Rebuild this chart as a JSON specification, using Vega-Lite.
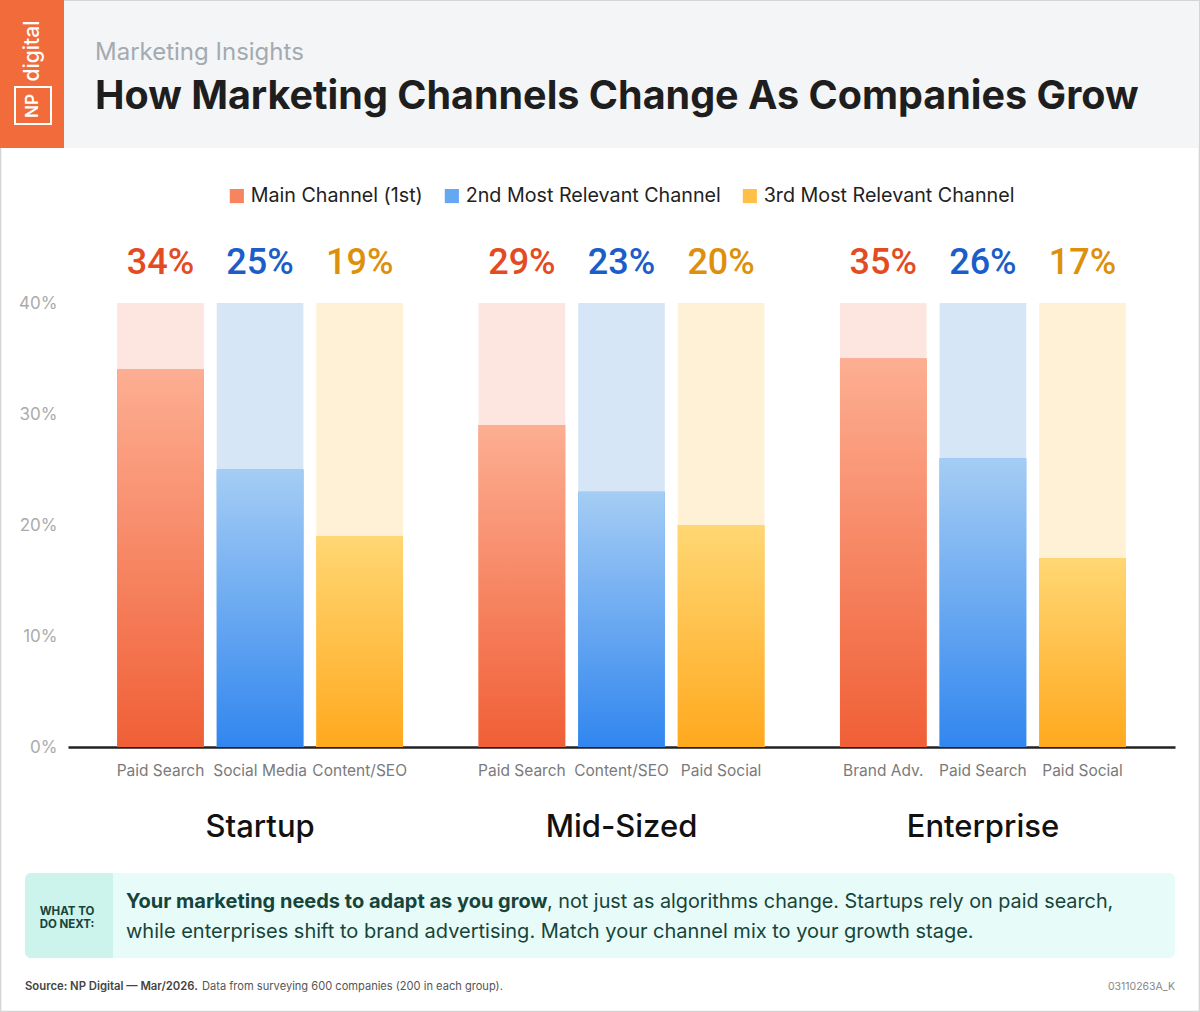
{
  "$schema": "https://vega.github.io/schema/vega-lite/v6.json",
  "width": 1107,
  "height": 444,
  "autosize": {"type": "none"},
  "padding": {"left": 68, "top": 303, "right": 25, "bottom": 265},
  "background": "white",
  "config": {"view": {"stroke": null}, "font": "Inter"},
  "title": {
    "text": "Marketing Insights",
    "subtitle": "How Marketing Channels Change As Companies Grow",
    "anchor": "start",
    "frame": "group",
    "orient": "top",
    "offset": 0,
    "dx": 27,
    "dy": 117,
    "font": "Inter",
    "fontSize": 24,
    "fontWeight": 400,
    "color": "#a3aab0",
    "subtitleFont": "Inter",
    "subtitleFontSize": 39.5,
    "subtitleFontWeight": 700,
    "subtitleColor": "#1e1e1e",
    "subtitlePadding": 13
  },
  "datasets": {
    "channels": [
      {"group": "Startup", "rank": "Main Channel (1st)", "channel": "Paid Search", "value": 0.34},
      {"group": "Startup", "rank": "2nd Most Relevant Channel", "channel": "Social Media", "value": 0.25},
      {"group": "Startup", "rank": "3rd Most Relevant Channel", "channel": "Content/SEO", "value": 0.19},
      {"group": "Mid-Sized", "rank": "Main Channel (1st)", "channel": "Paid Search", "value": 0.29},
      {"group": "Mid-Sized", "rank": "2nd Most Relevant Channel", "channel": "Content/SEO", "value": 0.23},
      {"group": "Mid-Sized", "rank": "3rd Most Relevant Channel", "channel": "Paid Social", "value": 0.20},
      {"group": "Enterprise", "rank": "Main Channel (1st)", "channel": "Brand Adv.", "value": 0.35},
      {"group": "Enterprise", "rank": "2nd Most Relevant Channel", "channel": "Paid Search", "value": 0.26},
      {"group": "Enterprise", "rank": "3rd Most Relevant Channel", "channel": "Paid Social", "value": 0.17}
    ]
  },
  "layer": [
    {
      "description": "outer frame",
      "data": {"values": [{}]},
      "mark": {"type": "rect", "fill": null, "stroke": "#d4d4d4", "strokeWidth": 1.5, "x": -67.5, "x2": 1131.5, "y": -302.5, "y2": 708.5},
      "encoding": {}
    },
    {
      "description": "header band",
      "data": {"values": [{}]},
      "mark": {"type": "rect", "fill": "#f4f5f7", "x": -68, "x2": 1131, "y": -302, "y2": -155},
      "encoding": {}
    },
    {
      "description": "logo block",
      "data": {"values": [{}]},
      "mark": {"type": "rect", "fill": "#f26b3a", "x": -68, "x2": -4, "y": -303, "y2": -155},
      "encoding": {}
    },
    {
      "description": "logo square",
      "data": {"values": [{}]},
      "mark": {"type": "rect", "fill": null, "stroke": "white", "strokeWidth": 2, "x": -53, "x2": -17, "y": -216, "y2": -179},
      "encoding": {}
    },
    {
      "description": "logo wordmark",
      "data": {"values": [{}]},
      "mark": {"type": "text", "text": "digital", "angle": 270, "color": "white", "font": "Inter", "fontSize": 21, "fontWeight": 500, "align": "center", "baseline": "middle", "x": -35, "y": -252},
      "encoding": {}
    },
    {
      "description": "logo initials",
      "data": {"values": [{}]},
      "mark": {"type": "text", "text": "NP", "angle": 270, "color": "white", "font": "Inter", "fontSize": 17, "fontWeight": 600, "align": "center", "baseline": "middle", "x": -35, "y": -197},
      "encoding": {}
    },
    {
      "description": "tracks to 40%",
      "data": {"name": "channels"},
      "mark": {"type": "bar"},
      "encoding": {
        "x": {
          "field": "group", "type": "nominal", "sort": ["Startup", "Mid-Sized", "Enterprise"],
          "scale": {"paddingInner": 0.209, "paddingOuter": 0.136},
          "axis": {"title": null, "labelAngle": 0, "ticks": false, "labelFont": "Inter", "labelFontSize": 31, "labelFontWeight": 500, "labelColor": "#111111", "labelPadding": 65, "domainColor": "#222222", "domainWidth": 2.5}
        },
        "xOffset": {
          "field": "rank", "type": "nominal",
          "sort": ["Main Channel (1st)", "2nd Most Relevant Channel", "3rd Most Relevant Channel"],
          "scale": {"paddingInner": 0.13, "paddingOuter": 0}
        },
        "y": {
          "datum": 0.4, "type": "quantitative",
          "scale": {"domain": [0, 0.4], "nice": false},
          "axis": {
            "title": null, "values": [0, 0.1, 0.2, 0.3, 0.4], "format": ".0%",
            "ticks": false, "domain": false, "labelFont": "Inter", "labelFontSize": 17, "labelColor": "#ababab", "labelPadding": 11,
            "gridColor": {"condition": {"test": "datum.value > 0.39", "value": "#dcdcdc"}, "value": "#c9c9c9"},
            "gridDash": {"condition": {"test": "datum.value > 0.39", "value": [1, 0]}, "value": [3, 4]},
            "gridWidth": {"condition": {"test": "datum.value > 0.39", "value": 2}, "value": 1}
          }
        },
        "y2": {"datum": 0},
        "fill": {
          "condition": [
            {"test": "datum.rank === 'Main Channel (1st)'", "value": "#fce6df"},
            {"test": "datum.rank === '2nd Most Relevant Channel'", "value": "#d6e6f7"}
          ],
          "value": "#fef1d6"
        }
      }
    },
    {
      "description": "share bars, solid base carrying the legend",
      "data": {"name": "channels"},
      "mark": {"type": "bar"},
      "encoding": {
        "x": {"field": "group", "type": "nominal", "sort": ["Startup", "Mid-Sized", "Enterprise"]},
        "xOffset": {"field": "rank", "type": "nominal", "sort": ["Main Channel (1st)", "2nd Most Relevant Channel", "3rd Most Relevant Channel"]},
        "y": {"field": "value", "type": "quantitative"},
        "fill": {
          "field": "rank", "type": "nominal",
          "sort": ["Main Channel (1st)", "2nd Most Relevant Channel", "3rd Most Relevant Channel"],
          "scale": {
            "domain": ["Main Channel (1st)", "2nd Most Relevant Channel", "3rd Most Relevant Channel"],
            "range": ["#f6845f", "#66a7f2", "#ffc048"]
          },
          "legend": {
            "title": null, "orient": "none", "legendX": 159, "legendY": -117, "direction": "horizontal",
            "symbolType": "square", "symbolSize": 200, "symbolStrokeWidth": 0,
            "labelFont": "Inter", "labelFontSize": 19.7, "labelColor": "#222222", "labelOffset": 4, "columnPadding": 19, "labelLimit": 400
          }
        }
      }
    },
    {
      "description": "share bars, gradient face",
      "data": {"name": "channels"},
      "mark": {"type": "bar"},
      "encoding": {
        "x": {"field": "group", "type": "nominal", "sort": ["Startup", "Mid-Sized", "Enterprise"]},
        "xOffset": {"field": "rank", "type": "nominal", "sort": ["Main Channel (1st)", "2nd Most Relevant Channel", "3rd Most Relevant Channel"]},
        "y": {"field": "value", "type": "quantitative"},
        "fill": {
          "condition": [
            {"test": "datum.rank === 'Main Channel (1st)'", "value": {"gradient": "linear", "x1": 0, "y1": 0, "x2": 0, "y2": 1, "stops": [{"offset": 0, "color": "#fdae92"}, {"offset": 1, "color": "#f05f36"}]}},
            {"test": "datum.rank === '2nd Most Relevant Channel'", "value": {"gradient": "linear", "x1": 0, "y1": 0, "x2": 0, "y2": 1, "stops": [{"offset": 0, "color": "#a5cdf4"}, {"offset": 1, "color": "#3186ef"}]}}
          ],
          "value": {"gradient": "linear", "x1": 0, "y1": 0, "x2": 0, "y2": 1, "stops": [{"offset": 0, "color": "#ffd774"}, {"offset": 1, "color": "#ffa91e"}]}
        }
      }
    },
    {
      "description": "share labels above the tracks",
      "data": {"name": "channels"},
      "mark": {"type": "text", "font": "Roboto", "fontSize": 36, "fontWeight": 500, "align": "center", "baseline": "middle"},
      "encoding": {
        "x": {"field": "group", "type": "nominal", "sort": ["Startup", "Mid-Sized", "Enterprise"]},
        "xOffset": {"field": "rank", "type": "nominal", "sort": ["Main Channel (1st)", "2nd Most Relevant Channel", "3rd Most Relevant Channel"]},
        "y": {"datum": 0.436},
        "text": {"field": "value", "type": "quantitative", "format": ".0%"},
        "color": {
          "condition": [
            {"test": "datum.rank === 'Main Channel (1st)'", "value": "#e34b23"},
            {"test": "datum.rank === '2nd Most Relevant Channel'", "value": "#1b5dc9"}
          ],
          "value": "#dd900b"
        }
      }
    },
    {
      "description": "channel names under the bars",
      "data": {"name": "channels"},
      "mark": {"type": "text", "font": "Inter", "fontSize": 15.5, "color": "#7a7a7a", "align": "center", "baseline": "middle"},
      "encoding": {
        "x": {"field": "group", "type": "nominal", "sort": ["Startup", "Mid-Sized", "Enterprise"]},
        "xOffset": {"field": "rank", "type": "nominal", "sort": ["Main Channel (1st)", "2nd Most Relevant Channel", "3rd Most Relevant Channel"]},
        "y": {"datum": -0.0216},
        "text": {"field": "channel"}
      }
    },
    {
      "description": "callout box",
      "data": {"values": [{}]},
      "mark": {"type": "rect", "fill": "#e7fbf8", "cornerRadius": 6, "x": -43, "x2": 1107, "y": 570, "y2": 655},
      "encoding": {}
    },
    {
      "description": "callout tab",
      "data": {"values": [{}]},
      "mark": {"type": "rect", "fill": "#cdf3ed", "cornerRadiusTopLeft": 6, "cornerRadiusBottomLeft": 6, "x": -43, "x2": 45, "y": 570, "y2": 655},
      "encoding": {}
    },
    {
      "description": "callout tab label",
      "data": {"values": [{}]},
      "mark": {"type": "text", "text": ["WHAT TO", "DO NEXT:"], "font": "Inter", "fontSize": 11.5, "fontWeight": 700, "color": "#17443a", "align": "center", "baseline": "middle", "lineHeight": 13, "x": -1, "y": 609},
      "encoding": {}
    },
    {
      "description": "callout lead",
      "data": {"values": [{}]},
      "mark": {"type": "text", "text": "Your marketing needs to adapt as you grow", "font": "Inter", "fontSize": 20, "fontWeight": 700, "color": "#17443a", "align": "left", "baseline": "middle", "x": 58, "y": 599},
      "encoding": {}
    },
    {
      "description": "callout body",
      "data": {"values": [{}]},
      "mark": {"type": "text", "text": ", not just as algorithms change. Startups rely on paid search,", "font": "Inter", "fontSize": 19.8, "fontWeight": 400, "color": "#17443a", "align": "left", "baseline": "middle", "x": 479, "y": 599},
      "encoding": {}
    },
    {
      "description": "callout body second line",
      "data": {"values": [{}]},
      "mark": {"type": "text", "text": "while enterprises shift to brand advertising. Match your channel mix to your growth stage.", "font": "Inter", "fontSize": 20, "fontWeight": 400, "color": "#17443a", "align": "left", "baseline": "middle", "x": 58, "y": 629},
      "encoding": {}
    },
    {
      "description": "source line",
      "data": {"values": [{}]},
      "mark": {"type": "text", "text": "Source: NP Digital — Mar/2026.", "font": "Inter", "fontSize": 11.3, "fontWeight": 600, "color": "#444444", "align": "left", "baseline": "middle", "x": -43, "y": 684},
      "encoding": {}
    },
    {
      "description": "source note",
      "data": {"values": [{}]},
      "mark": {"type": "text", "text": "Data from surveying 600 companies (200 in each group).", "font": "Inter", "fontSize": 11.1, "fontWeight": 400, "color": "#555555", "align": "left", "baseline": "middle", "x": 134, "y": 684},
      "encoding": {}
    },
    {
      "description": "chart code",
      "data": {"values": [{}]},
      "mark": {"type": "text", "text": "03110263A_K", "font": "Inter", "fontSize": 10.5, "color": "#888888", "align": "right", "baseline": "middle", "x": 1107, "y": 684},
      "encoding": {}
    }
  ]
}
